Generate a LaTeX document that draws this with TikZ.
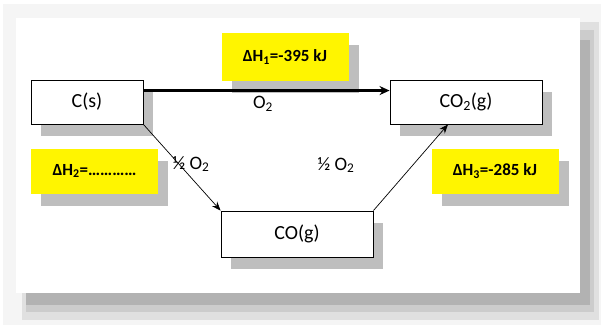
\documentclass[tikz,border=0pt]{standalone}
\usepackage{fontspec}
\setmainfont{Carlito}
\usetikzlibrary{arrows.meta, shadows}
\definecolor{notegold}{RGB}{255, 245, 0}
\definecolor{shadegray}{RGB}{190, 190, 190}

\tikzset{
    statebox/.style={
        rectangle,
        draw=black,
        line width=0.9pt,
        fill=white,
        minimum width=112pt,
        minimum height=44pt,
        inner sep=0pt,
        font=\fontsize{20}{22}\selectfont,
        drop shadow={shadow xshift=10pt, shadow yshift=-12pt, fill=shadegray, opacity=1}
    },
    notebox/.style={
        rectangle,
        fill=notegold,
        minimum width=127pt,
        minimum height=45pt,
        inner sep=0pt,
        font=\fontsize{17}{20}\selectfont\bfseries,
        drop shadow={shadow xshift=10pt, shadow yshift=-12pt, fill=shadegray, opacity=1}
    },
    reacttag/.style={font=\fontsize{19}{21}\selectfont, inner sep=1pt}
}

\begin{document}
\begin{tikzpicture}[x=1pt, y=-1pt]
        \useasboundingbox (0,0) rectangle (602,327);
        % frame with soft shadow
        \fill[black!4] (3,4) rectangle (601,325);
        \fill[black!12] (22,22) rectangle (599,320);
        \fill[black!20] (26,30) rectangle (594,312);
        \fill[black!30] (26,40) rectangle (590,305);
        \fill[white] (16,18) rectangle (580,293);

        % states
        \node[statebox] (cs) at (87, 102) {C(s)};
        \node[statebox, minimum width=152pt] (cotwo) at (466, 102) {CO\textsubscript{2}(g)};
        \node[statebox, minimum width=152pt, minimum height=46pt] (co) at (297, 234) {CO(g)};

        % enthalpies
        \node[notebox, minimum height=48pt] (dhone) at (285, 57) {ΔH\textsubscript{1}=-395 kJ};
        \node[notebox] (dhtwo) at (94.5, 171) {ΔH\textsubscript{2}=…………};
        \node[notebox] (dhthree) at (495, 171) {ΔH\textsubscript{3}=-285 kJ};

        % reactions
        \draw[line width=2.4pt, -{Stealth[length=10pt, width=9pt]}]
            ([yshift=-11pt]cs.north east) -- ([yshift=-11pt]cotwo.north west);
        \draw[line width=0.7pt, -{Stealth[length=9pt, width=7pt]}]
            (cs.south east) -- (co.north west);
        \draw[line width=0.7pt, -{Stealth[length=9pt, width=7pt]}]
            (co.north east) -- ([xshift=-18pt]cotwo.south);

        \node[reacttag] (oxtop) at (263, 104) {O\textsubscript{2}};
        \node[reacttag] (oxleft) at (191, 164) {½ O\textsubscript{2}};
        \node[reacttag] (oxright) at (336, 165) {½ O\textsubscript{2}};
    \end{tikzpicture}
\end{document}
